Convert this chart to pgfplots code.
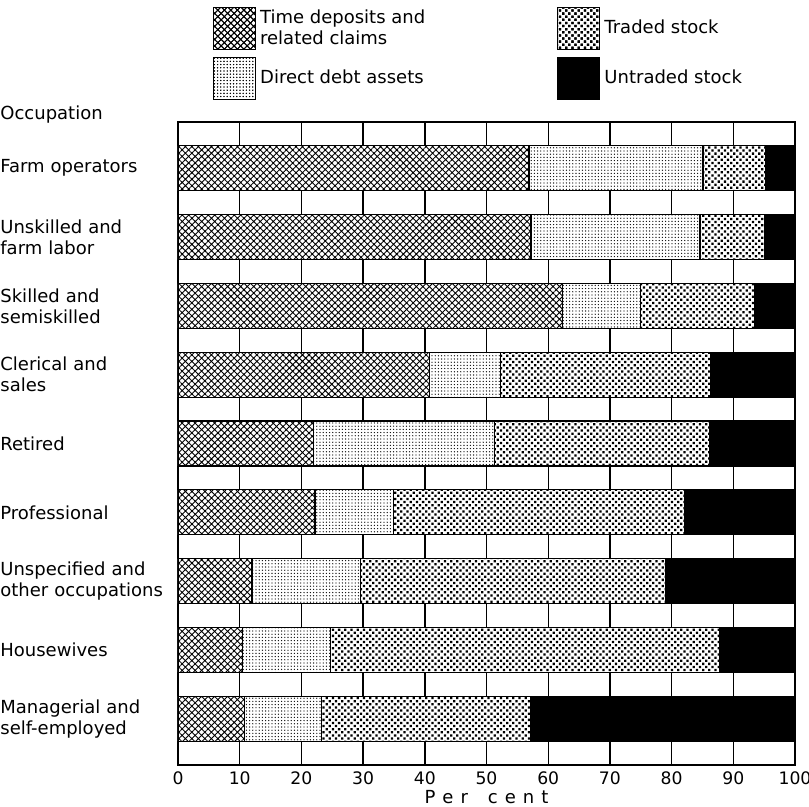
\documentclass[border=0pt]{standalone}
\usepackage{fontspec}
\setmainfont{DejaVu Sans}
\usepackage{pgfplots}
\usepackage{pgfplotstable}
\pgfplotsset{compat=1.18}
\usetikzlibrary{patterns.meta}

% shares of each asset type, per cent
\pgfplotstableread{
occ time direct traded untraded
1 56.9 28.2 10.2 4.7
2 57.2 27.4 10.5 4.9
3 62.3 12.7 18.5 6.5
4 40.7 11.6 34.1 13.6
5 22.0 29.3 34.8 13.9
6 22.2 12.7 47.2 17.9
7 12.0 17.6 49.4 21.0
8 10.4 14.3 63.0 12.3
9 10.8 12.4 34.0 42.8
}\occdata

\tikzset{
  timedep/.style={fill=white, draw=black, line width=0.6pt,
    postaction={pattern={Hatch[angle=45,distance=2.3pt,line width=0.45pt]}}},
  directdebt/.style={fill=white, draw=black, line width=0.6pt,
    postaction={pattern={Dots[distance=1.6pt,radius=0.33pt]}}},
  traded/.style={fill=white, draw=black, line width=0.6pt,
    postaction={pattern={Dots[angle=45,distance=2.2pt,radius=0.8pt]}}},
  untraded/.style={fill=black, draw=black, line width=0.6pt},
}

\begin{document}
\begin{tikzpicture}[font=\fontsize{9}{10.5}\selectfont]
\useasboundingbox (-89pt,-21pt) rectangle (315.5pt,382.5pt);
\begin{axis}[
  at={(0,0)}, anchor=south west,
  width=308.5pt, height=321.5pt, scale only axis,
  xbar stacked, bar width=0.655,
  xmin=0, xmax=100,
  ymin=0.3275, ymax=9.6725, y dir=reverse,
  xtick={0,10,...,100},
  ytick={1,...,9},
  yticklabels={Farm operators,
    {Unskilled and\\farm labor},
    {Skilled and\\semiskilled},
    {Clerical and\\sales},
    Retired,
    Professional,
    {Unspecified and\\other occupations},
    Housewives,
    {Managerial and\\self-employed}},
  major tick length=0pt,
  xmajorgrids,
  grid style={black, line width=0.7pt},
  axis line style={line width=1.1pt},
  yticklabel style={anchor=west, align=left, text width=88pt, inner sep=0pt, xshift=-89pt},
  xticklabel style={inner xsep=0pt, font=\fontsize{8.6}{10}\selectfont},
  /pgf/number format/assume math mode=true,
  xlabel={P\hspace{3.5pt}e\hspace{3.5pt}r\hspace{10pt}c\hspace{3.5pt}e\hspace{3.5pt}n\hspace{3.5pt}t},
  xlabel style={yshift=4pt},
  legend columns=2, transpose legend,
  legend style={at={(0.056,1.182)}, anchor=north west, draw=none, fill=none,
    inner sep=0pt, row sep=3pt,
    cells={anchor=west, align=left},
    /tikz/every even column/.append style={column sep=64pt}},
]
\addplot[timedep, legend image code/.code={\draw[timedep] (0pt,-10.5pt) rectangle (21pt,10.5pt);}]
  table[x=time, y=occ] {\occdata};
\addlegendentry{Time deposits and\\related claims}
\addplot[directdebt, legend image code/.code={\draw[directdebt] (0pt,-10.5pt) rectangle (21pt,10.5pt);}]
  table[x=direct, y=occ] {\occdata};
\addlegendentry{Direct debt assets}
\addplot[traded, legend image code/.code={\draw[traded] (0pt,-10.5pt) rectangle (21pt,10.5pt);}]
  table[x=traded, y=occ] {\occdata};
\addlegendentry{Traded stock}
\addplot[untraded, legend image code/.code={\draw[untraded] (0pt,-10.5pt) rectangle (21pt,10.5pt);}]
  table[x=untraded, y=occ] {\occdata};
\addlegendentry{Untraded stock}
\end{axis}
\node[anchor=west, inner sep=0pt] at (-89pt,325pt) {Occupation};
\end{tikzpicture}
\end{document}
